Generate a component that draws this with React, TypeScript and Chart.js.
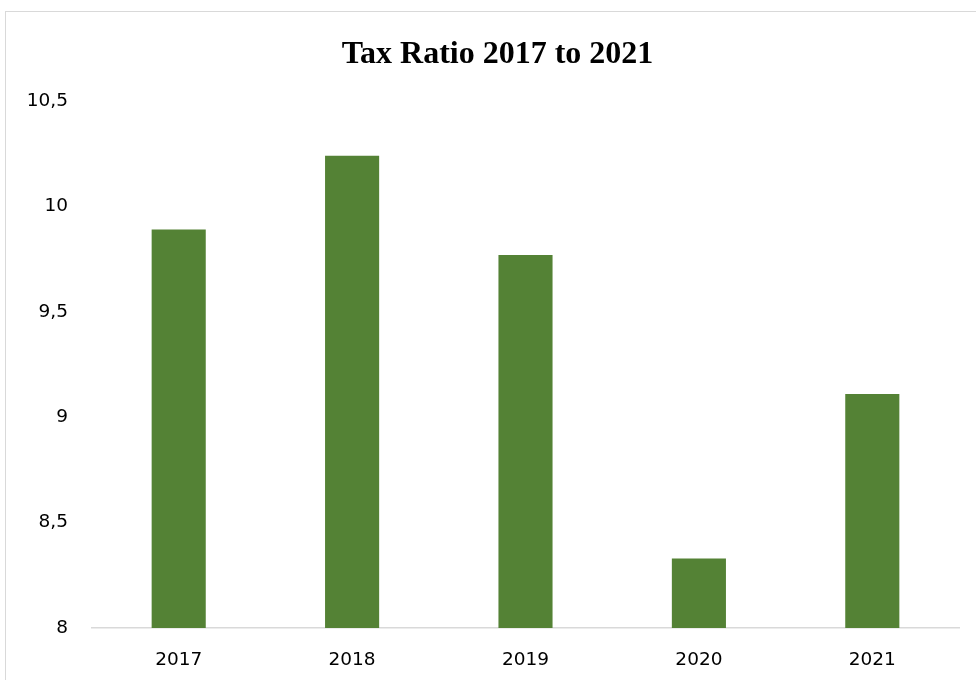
import React, { useEffect, useRef } from "react";
import { Chart, registerables } from "chart.js";

Chart.register(...registerables);

const TITLE = "Tax Ratio 2017 to 2021";
const YEARS = ["2017", "2018", "2019", "2020", "2021"];
const TAX_RATIO = [9.89, 10.24, 9.77, 8.33, 9.11];
const Y_MIN = 8;
const Y_MAX = 10.5;
const Y_STEP = 0.5;

const BAR_COLOR = "#548235";
const AXIS_COLOR = "#d9d9d9";
const TEXT_COLOR = "#000000";

const titlePlugin = {
  id: "customTitle",
  afterDraw(chart: any) {
    const ctx = chart.ctx;
    ctx.save();
    ctx.font = "bold 32px 'Liberation Serif', 'Times New Roman', serif";
    ctx.fillStyle = TEXT_COLOR;
    ctx.textAlign = "center";
    ctx.textBaseline = "alphabetic";
    ctx.fillText(TITLE, 497.5, 63);
    ctx.restore();
  },
};

export default function App() {
  const canvasRef = useRef<HTMLCanvasElement | null>(null);

  useEffect(() => {
    if (!canvasRef.current) return;
    const chart = new Chart(canvasRef.current, {
      type: "bar",
      data: {
        labels: YEARS,
        datasets: [
          {
            label: TITLE,
            data: TAX_RATIO,
            backgroundColor: BAR_COLOR,
            borderWidth: 0,
            barPercentage: 0.312,
            categoryPercentage: 1,
          },
        ],
      },
      options: {
        responsive: false,
        animation: false,
        layout: { padding: { left: 0, right: 17, top: 101, bottom: 0 } },
        plugins: {
          legend: { display: false },
          title: { display: false },
          tooltip: { enabled: false },
        },
        scales: {
          x: {
            grid: { display: false, drawTicks: false },
            border: { display: true, color: AXIS_COLOR, width: 1.5 },
            ticks: {
              color: TEXT_COLOR,
              padding: 21,
              font: { family: "'DejaVu Sans', sans-serif", size: 18.5 },
            },
            afterFit(scale: any) {
              scale.height = 52;
            },
          },
          y: {
            min: Y_MIN,
            max: Y_MAX,
            grid: { display: false, drawTicks: false },
            border: { display: false },
            ticks: {
              stepSize: Y_STEP,
              color: TEXT_COLOR,
              padding: 24,
              font: { family: "'DejaVu Sans', sans-serif", size: 18.5 },
              callback: (v: any) => String(v).replace(".", ","),
            },
            afterFit(scale: any) {
              scale.width = 92;
            },
          },
        },
      },
      plugins: [titlePlugin],
    });
    return () => chart.destroy();
  }, []);

  return (
    <div
      style={{
        position: "fixed",
        left: 0,
        top: 0,
        width: 976,
        height: 680,
        overflow: "hidden",
        background: "#ffffff",
      }}
    >
      <div
        style={{
          position: "absolute",
          left: 5,
          top: 11,
          width: 1000,
          height: 700,
          border: `1px solid ${AXIS_COLOR}`,
        }}
      />
      <canvas
        ref={canvasRef}
        width={976}
        height={680}
        style={{ position: "absolute", left: 0, top: 0 }}
      />
    </div>
  );
}
